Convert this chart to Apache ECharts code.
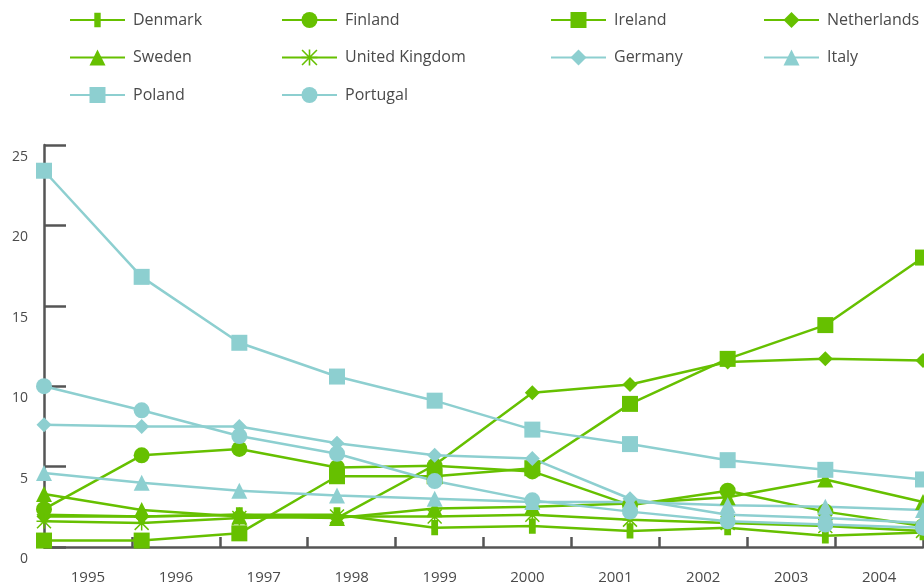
<!DOCTYPE html>
<html>
<head>
<meta charset="utf-8">
<script src="https://cdn.jsdelivr.net/npm/echarts@6/dist/echarts.min.js"></script>
<style>
html,body{margin:0;padding:0;background:#fff;}
#chart{width:924px;height:586px;}
</style>
</head>
<body>
<div id="chart"></div>
<script>
// ---- data ----
const years = ['1995','1996','1997','1998','1999','2000','2001','2002','2003','2004'];
const yTicks = [0, 5, 10, 15, 20, 25];

const denmark     = [2.0, 1.9, 2.0, 2.0, 1.2, 1.3, 1.0, 1.2, 0.7, 0.9];
const finland     = [2.35, 5.7, 6.1, 4.95, 5.05, 4.7, 2.6, 3.5, 2.2, 1.3];
const ireland     = [0.4, 0.4, 0.85, 4.4, 4.4, 4.9, 8.9, 11.7, 13.8, 18.0];
const netherlands = [1.9, 1.9, 2.0, 1.8, 5.1, 9.6, 10.1, 11.5, 11.7, 11.6];
const sweden      = [3.3, 2.3, 1.9, 1.8, 2.4, 2.5, 2.7, 3.1, 4.2, 2.8];
const uk          = [1.6, 1.5, 1.8, 1.9, 1.9, 2.0, 1.7, 1.5, 1.3, 1.0];
const germany     = [7.6, 7.5, 7.5, 6.45, 5.7, 5.5, 3.0, 2.0, 1.8, 1.5];
const italy       = [4.6, 4.0, 3.5, 3.2, 3.0, 2.8, 2.8, 2.6, 2.5, 2.3];
const poland      = [23.4, 16.8, 12.7, 10.6, 9.1, 7.3, 6.4, 5.4, 4.8, 4.2];
const portugal    = [10.0, 8.5, 6.9, 5.8, 4.1, 2.9, 2.2, 1.6, 1.4, 1.2];

// ---- styles ----
const GREEN = '#66c000';
const TEAL = '#8dcfd0';
const TEXT = '#4a4a4a';
const AXIS = '#555555';
const FONT = '"Open Sans", "Noto Sans", sans-serif';

const barSym = 'path://M0 0 L0 0.01 L0.01 0 Z M20 20 L20 19.99 L19.99 20 Z M6 1 L14 1 L14 19 L6 19 Z';
const starSym = 'path://M9 0 L11 0 L11 20 L9 20 Z M0 1.4 L1.4 0 L20 18.6 L18.6 20 Z M18.6 0 L20 1.4 L1.4 20 L0 18.6 Z M0 9 L20 9 L20 11 L0 11 Z';

function mk(name, data, color, symbol, size) {
  return {
    name: name, type: 'line', data: data,
    xAxisIndex: 1,
    symbol: symbol, symbolSize: size, showAllSymbol: true,
    clip: false,
    lineStyle: { color: color, width: 2.5 },
    itemStyle: { color: color },
    emphasis: { disabled: true }
  };
}

const series = [
  mk('Denmark', denmark, GREEN, barSym, 17),
  mk('Finland', finland, GREEN, 'circle', 16),
  mk('Ireland', ireland, GREEN, 'rect', 16),
  mk('Netherlands', netherlands, GREEN, 'diamond', 15),
  mk('Sweden', sweden, GREEN, 'triangle', 16),
  mk('United Kingdom', uk, GREEN, starSym, 15),
  mk('Germany', germany, TEAL, 'diamond', 15),
  mk('Italy', italy, TEAL, 'triangle', 16),
  mk('Poland', poland, TEAL, 'rect', 16),
  mk('Portugal', portugal, TEAL, 'circle', 16)
];

function legendCol(left, names) {
  return {
    orient: 'vertical', left: left, top: 12, padding: 0,
    itemWidth: 55, itemHeight: 20, itemGap: 21.5,
    data: names,
    selectedMode: false,
    textStyle: { color: TEXT, fontSize: 16, fontFamily: FONT, padding: [0, 0, 0, 3] }
  };
}

const chart = echarts.init(document.getElementById('chart'), null, { renderer: 'canvas' });
chart.setOption({
  animation: false,
  backgroundColor: '#ffffff',
  legend: [
    legendCol(69, ['Denmark', 'Sweden', 'Poland']),
    legendCol(281, ['Finland', 'United Kingdom', 'Portugal']),
    legendCol(550, ['Ireland', 'Germany']),
    legendCol(763, ['Netherlands', 'Italy'])
  ],
  grid: { left: 44, right: 1, top: 145, bottom: 39, containLabel: false },
  xAxis: [
    {
      type: 'category', data: years, boundaryGap: true, position: 'bottom',
      axisLine: { show: true, lineStyle: { color: AXIS, width: 2.5 } },
      axisTick: { show: true, inside: true, length: 10, lineStyle: { color: AXIS, width: 2.5 } },
      axisLabel: { color: TEXT, fontSize: 15, fontFamily: FONT, margin: 23 },
      splitLine: { show: false }
    },
    {
      type: 'category', data: years, boundaryGap: false, position: 'bottom', show: false
    }
  ],
  yAxis: {
    type: 'value', min: yTicks[0], max: yTicks[yTicks.length - 1], interval: 5,
    axisLine: { show: true, lineStyle: { color: AXIS, width: 2.5 } },
    axisTick: { show: true, inside: true, length: 22, lineStyle: { color: AXIS, width: 2.5 } },
    axisLabel: { color: TEXT, fontSize: 14, fontFamily: FONT, margin: 16, verticalAlign: 'top', padding: [5, 0, 0, 0] },
    splitLine: { show: false }
  },
  series: series
});
</script>
</body>
</html>
